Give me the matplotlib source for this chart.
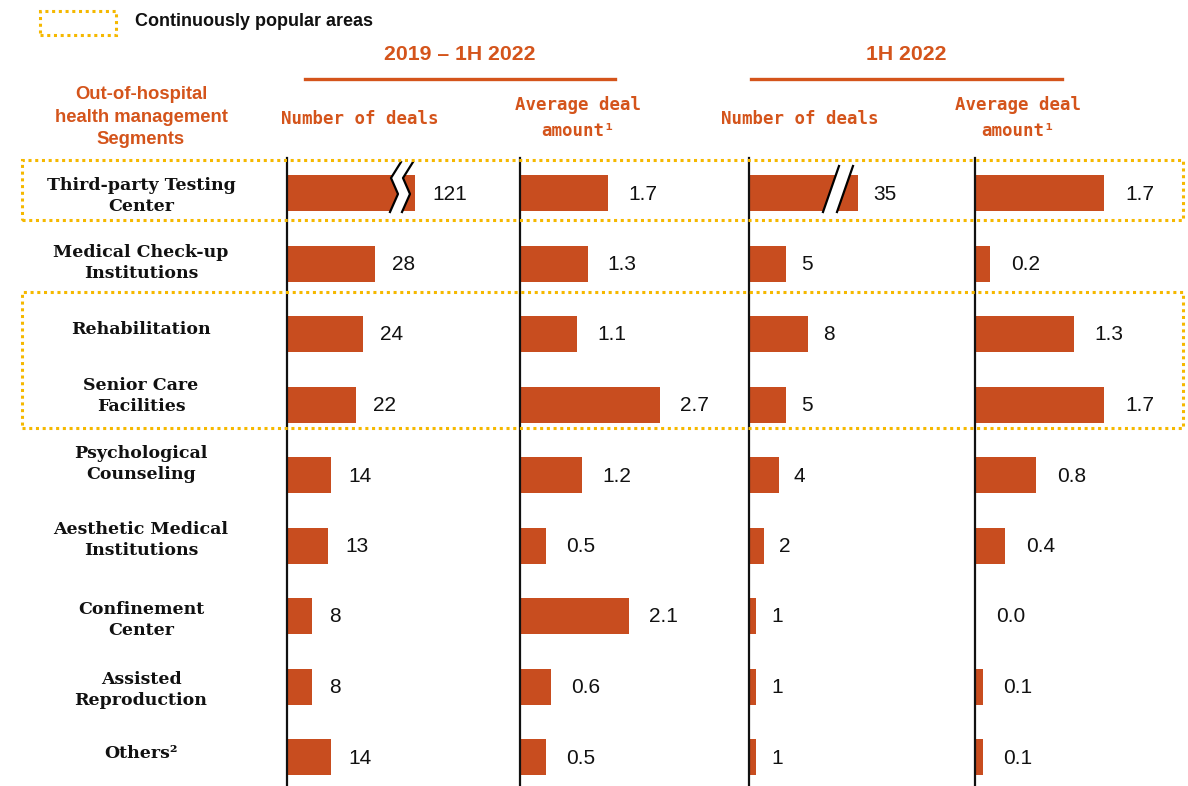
import matplotlib
matplotlib.use("Agg")
import matplotlib.pyplot as plt
from matplotlib.patches import Rectangle, Polygon
from matplotlib.lines import Line2D

# Out-of-hospital health management deals, 2019 - 1H 2022 vs 1H 2022
segments = ["Third-party Testing\nCenter", "Medical Check-up\nInstitutions",
            "Rehabilitation", "Senior Care\nFacilities", "Psychological\nCounseling",
            "Aesthetic Medical\nInstitutions", "Confinement\nCenter",
            "Assisted\nReproduction", "Others²"]
deals_2019_2022 = [121, 28, 24, 22, 14, 13, 8, 8, 14]
amount_2019_2022 = [1.7, 1.3, 1.1, 2.7, 1.2, 0.5, 2.1, 0.6, 0.5]
deals_1h2022 = [35, 5, 8, 5, 4, 2, 1, 1, 1]
amount_1h2022 = [1.7, 0.2, 1.3, 1.7, 0.8, 0.4, 0.0, 0.1, 0.1]

period_titles = ["2019 – 1H 2022", "1H 2022"]
col_count = "Number of deals"
col_amount = ["Average deal", "amount¹"]
legend_text = "Continuously popular areas"
segment_header = "Out-of-hospital\nhealth management\nSegments"

BAR = "#C84D1F"
HEAD = "#D4541B"
GOLD = "#F5B800"
W, H = 1188, 786

fig = plt.figure(figsize=(W / 100, H / 100), dpi=100)


def fx(x):
    return x / W


def fy(y):
    return 1 - y / H


# panel layout in pixels: left edge, width, pixels per unit, label offset
panels = [
    (deals_2019_2022, 287, 225, 3.15, 17, "{:d}"),
    (amount_2019_2022, 520, 225, 52.0, 20, "{:.1f}"),
    (deals_1h2022, 749, 222, 7.4, 15, "{:d}"),
    (amount_1h2022, 975, 210, 76.0, 21, "{:.1f}"),
]
# bars that are too long get a broken bar of fixed pixel length
broken_px = {0: 128, 2: 109}

TOP, ROW0, PITCH = 158, 193, 70.5
n = len(segments)
rows = list(range(n))

axes = []
for k, (vals, left, width, ppu, off, fmt) in enumerate(panels):
    ax = fig.add_axes([fx(left), 0, width / W, (H - TOP) / H])
    ax.set_xlim(0, width / ppu)
    ax.set_ylim((H - ROW0) / PITCH, (TOP - ROW0) / PITCH)
    shown = list(vals)
    if k in broken_px:
        shown[0] = broken_px[k] / ppu
    ax.barh(rows, shown, height=36 / PITCH, color=BAR, edgecolor="none")
    for i, (v, s) in enumerate(zip(vals, shown)):
        ax.annotate(fmt.format(v), xy=(s, i), xytext=(off, -1),
                    textcoords="offset pixels", va="center", ha="left",
                    fontsize=15, family="Liberation Sans", color="#111111")
    for side in ["top", "right", "bottom"]:
        ax.spines[side].set_visible(False)
    ax.spines["left"].set_linewidth(1.6)
    ax.spines["left"].set_color("#111111")
    ax.set_xticks([])
    ax.set_yticks([])
    ax.patch.set_alpha(0)
    axes.append(ax)

# zigzag break on the first "number of deals" bar
ax, ppu = axes[0], panels[0][3]
end = broken_px[0] / ppu
zig = [(4, -31), (-6, -15), (1, 1), (-7, 19)]
lft = [(end + (dx - 18) / ppu, dy / PITCH) for dx, dy in zig]
rgt = [(end + (dx - 6) / ppu, dy / PITCH) for dx, dy in zig]
ax.add_patch(Polygon(lft + rgt[::-1], closed=True, fc="white", ec="none", zorder=3))
for pts in (lft, rgt):
    ax.plot([p[0] for p in pts], [p[1] for p in pts], color="black", lw=1.6, zorder=4)

# slanted "//" break on the 1H 2022 deals bar
ax, ppu = axes[2], panels[2][3]
end = broken_px[2] / ppu
slash_l = [(end - 35 / ppu, 19 / PITCH), (end - 19 / ppu, -27 / PITCH)]
slash_r = [(end - 21 / ppu, 19 / PITCH), (end - 5 / ppu, -27 / PITCH)]
ax.add_patch(Polygon(slash_l + slash_r[::-1], closed=True, fc="white", ec="none", zorder=3))
for pts in (slash_l, slash_r):
    ax.plot([p[0] for p in pts], [p[1] for p in pts], color="black", lw=1.6, zorder=4)

# segment names
label_y = [196, 263, 330, 396, 464, 540, 620, 690, 754]
for name, y in zip(segments, label_y):
    fig.text(fx(141), fy(y), name, ha="center", va="center", fontsize=12.5,
             family="DejaVu Serif", weight="bold", color="#111111",
             linespacing=1.35)

fig.text(fx(141), fy(117), segment_header, ha="center", va="center",
         fontsize=13.3, family="Liberation Sans", weight="bold", color=HEAD,
         linespacing=1.45)

# period titles with underline
for title, cx, x0, x1 in [(period_titles[0], 460, 305, 615),
                          (period_titles[1], 906, 751, 1062)]:
    fig.text(fx(cx), fy(54), title, ha="center", va="center", fontsize=15.3,
             family="Liberation Sans", weight="bold", color=HEAD)
    fig.add_artist(Line2D([fx(x0), fx(x1)], [fy(79), fy(79)], color=HEAD,
                          lw=2.4, transform=fig.transFigure))

# column headers
mono = dict(family="DejaVu Sans Mono", weight="bold", fontsize=12.5, color=HEAD,
            ha="center", va="center")
for cx in (360, 800):
    fig.text(fx(cx), fy(119), col_count, **mono)
for cx in (578, 1018):
    fig.text(fx(cx), fy(105), col_amount[0], **mono)
    fig.text(fx(cx), fy(131), col_amount[1], **mono)

# dotted highlight boxes
dots = dict(fill=False, ec=GOLD, lw=2.2, ls=(0, (1, 1.2)), transform=fig.transFigure)
for x0, y0, x1, y1 in [(22, 160, 1183, 220), (22, 292, 1183, 428), (40, 11, 116, 35)]:
    fig.add_artist(Rectangle((fx(x0), fy(y1)), (x1 - x0) / W, (y1 - y0) / H, **dots))

fig.text(fx(135), fy(21), legend_text, ha="left", va="center", fontsize=13,
         family="Liberation Sans", weight="bold", color="#111111")

fig.savefig("out.png", dpi=100)
